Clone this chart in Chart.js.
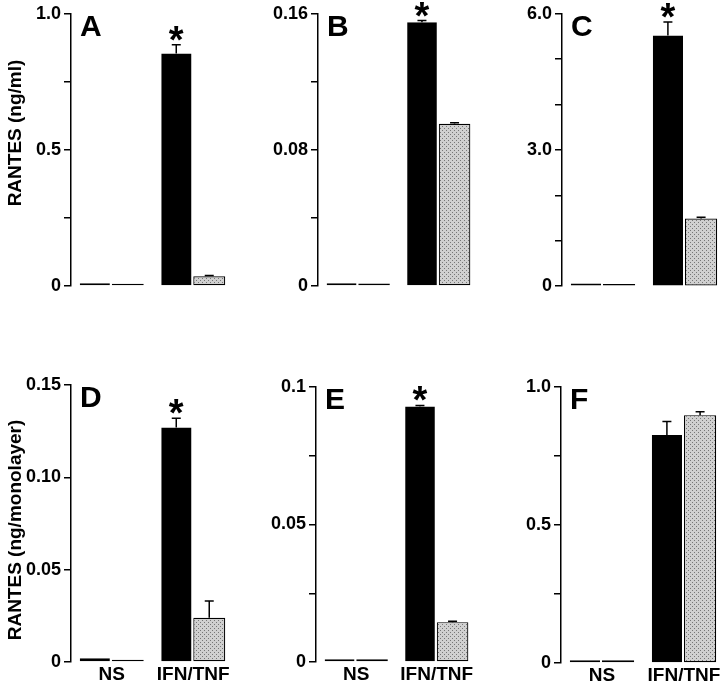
<!DOCTYPE html>
<html lang="en">
<head>
  <meta charset="UTF-8" />
  <title>RANTES</title>
  <script src="https://cdn.jsdelivr.net/npm/chart.js"></script>
  <style>
    html, body { margin: 0; padding: 0; background: #fff; overflow: hidden; }
    body { width: 720px; height: 685px; position: relative; }
    canvas { position: absolute; }
  </style>
</head>
<body>
  <canvas id="cA"></canvas>
  <canvas id="cB"></canvas>
  <canvas id="cC"></canvas>
  <canvas id="cD"></canvas>
  <canvas id="cE"></canvas>
  <canvas id="cF"></canvas>

  <script>
    const groups = ['NS', 'IFN/TNF'];

    // A
    const blackA = [0.01, 0.854];
    const grayA = [0.008, 0.036];
    const errBlackA = [0, 0.032];
    const errGrayA = [0, 0.003];
    const ticksA = [0, 0.25, 0.5, 0.75, 1.0];
    const labelsA = ['0', '', '0.5', '', '1.0'];

    // B
    const blackB = [0.0016, 0.155];
    const grayB = [0.0014, 0.0954];
    const errBlackB = [0, 0.001];
    const errGrayB = [0, 0.0006];
    const ticksB = [0, 0.04, 0.08, 0.12, 0.16];
    const labelsB = ['0', '', '0.08', '', '0.16'];

    // C
    const blackC = [0.06, 5.52];
    const grayC = [0.05, 1.49];
    const errBlackC = [0, 0.30];
    const errGrayC = [0, 0.03];
    const ticksC = [0, 1, 2, 3, 4, 5, 6];
    const labelsC = ['0', '', '', '3.0', '', '', '6.0'];

    // D
    const blackD = [0.002, 0.127];
    const grayD = [0.0012, 0.024];
    const errBlackD = [0, 0.005];
    const errGrayD = [0, 0.009];
    const ticksD = [0, 0.05, 0.10, 0.15];
    const labelsD = ['0', '0.05', '0.10', '0.15'];

    // E
    const blackE = [0.001, 0.0929];
    const grayE = [0.001, 0.0145];
    const errBlackE = [0, 0.0004];
    const errGrayE = [0, 0.0003];
    const ticksE = [0, 0.025, 0.05, 0.075, 0.1];
    const labelsE = ['0', '', '0.05', '', '0.1'];

    // F
    const blackF = [0.01, 0.826];
    const grayF = [0.01, 0.898];
    const errBlackF = [0, 0.049];
    const errGrayF = [0, 0.012];
    const ticksF = [0, 0.25, 0.5, 0.75, 1.0];
    const labelsF = ['0', '', '0.5', '', '1.0'];

    const FONT = '"Liberation Sans", Arial, Helvetica, sans-serif';

    const panels = [
      { id: 'cA', letter: 'A', black: blackA, gray: grayA, errB: errBlackA, errG: errGrayA, ticks: ticksA, labels: labelsA, star: true,
        left: 0, top: 0, width: 234, height: 300, yw: 71, padTop: 12, xh: 14, showX: false,
        title: 'RANTES (ng/ml)', titleX: 16, titleY: 133 },
      { id: 'cB', letter: 'B', black: blackB, gray: grayB, errB: errBlackB, errG: errGrayB, ticks: ticksB, labels: labelsB, star: true,
        left: 240, top: 0, width: 239, height: 300, yw: 78, padTop: 12, xh: 14, showX: false },
      { id: 'cC', letter: 'C', black: blackC, gray: grayC, errB: errBlackC, errG: errGrayC, ticks: ticksC, labels: labelsC, star: true,
        left: 480, top: 0, width: 246, height: 300, yw: 82, padTop: 13, xh: 13, showX: false },
      { id: 'cD', letter: 'D', black: blackD, gray: grayD, errB: errBlackD, errG: errGrayD, ticks: ticksD, labels: labelsD, star: true,
        left: 0, top: 330, width: 234, height: 355, yw: 71, padTop: 55, xh: 23, showX: true,
        title: 'RANTES (ng/monolayer)', titleX: 16, titleY: 200 },
      { id: 'cE', letter: 'E', black: blackE, gray: grayE, errB: errBlackE, errG: errGrayE, ticks: ticksE, labels: labelsE, star: true,
        left: 240, top: 330, width: 237, height: 355, yw: 76, padTop: 57, xh: 23, showX: true },
      { id: 'cF', letter: 'F', black: blackF, gray: grayF, errB: errBlackF, errG: errGrayF, ticks: ticksF, labels: labelsF, star: false,
        left: 480, top: 330, width: 245, height: 355, yw: 81, padTop: 57, xh: 22, showX: true }
    ];

    // stippled light grey fill
    function stipple() {
      const c = document.createElement('canvas');
      c.width = 4; c.height = 4;
      const g = c.getContext('2d');
      g.fillStyle = '#d0d0d0';
      g.fillRect(0, 0, 4, 4);
      g.fillStyle = '#777';
      g.fillRect(0, 0, 1, 1);
      g.fillRect(2, 2, 1, 1);
      return g.createPattern(c, 'repeat');
    }
    const dots = stipple();

    // error bars, asterisk, panel letter, y title
    function extras(p) {
      return {
        id: 'extras',
        afterDatasetsDraw(chart) {
          const ctx = chart.ctx;
          const y = chart.scales.y;
          const area = chart.chartArea;
          ctx.save();
          ctx.strokeStyle = '#000';
          ctx.fillStyle = '#000';
          ctx.lineWidth = 1.5;

          [p.errB, p.errG].forEach((errs, di) => {
            const vals = di === 0 ? p.black : p.gray;
            chart.getDatasetMeta(di).data.forEach((bar, i) => {
              if (!errs[i]) return;
              const x = di === 0 ? bar.x - 1 : bar.x;
              const y0 = y.getPixelForValue(vals[i]);
              const y1 = y.getPixelForValue(vals[i] + errs[i]);
              ctx.beginPath();
              ctx.moveTo(x, y0);
              ctx.lineTo(x, y1);
              ctx.moveTo(x - 4.5, y1);
              ctx.lineTo(x + 4.5, y1);
              ctx.stroke();
            });
          });

          if (p.star) {
            const bar = chart.getDatasetMeta(0).data[1];
            const topY = y.getPixelForValue(p.black[1] + p.errB[1]);
            ctx.font = 'bold 38px ' + FONT;
            ctx.textAlign = 'center';
            ctx.textBaseline = 'alphabetic';
            const m = ctx.measureText('*');
            ctx.fillText('*', bar.x - 1, topY - 4 - m.actualBoundingBoxDescent);
          }

          ctx.font = 'bold 30px ' + FONT;
          ctx.textAlign = 'left';
          ctx.textBaseline = 'alphabetic';
          ctx.fillText(p.letter, area.left + 9, area.top + 22);

          if (p.title) {
            ctx.translate(p.titleX, p.titleY);
            ctx.rotate(-Math.PI / 2);
            ctx.font = 'bold 19px ' + FONT;
            ctx.textAlign = 'center';
            ctx.textBaseline = 'middle';
            ctx.fillText(p.title, 0, 0);
          }
          ctx.restore();
        }
      };
    }

    panels.forEach(p => {
      const canvas = document.getElementById(p.id);
      canvas.style.left = p.left + 'px';
      canvas.style.top = p.top + 'px';
      canvas.width = p.width;
      canvas.height = p.height;

      new Chart(canvas, {
        type: 'bar',
        data: {
          labels: groups,
          datasets: [
            {
              data: p.black,
              backgroundColor: '#000',
              borderColor: '#fff',
              borderWidth: { top: 0, right: 2, bottom: 0, left: 0 },
              borderSkipped: false,
              barPercentage: 1.0,
              categoryPercentage: 0.785
            },
            {
              data: p.gray,
              backgroundColor: dots,
              borderColor: '#000',
              borderWidth: 1.2,
              borderSkipped: false,
              barPercentage: 1.0,
              categoryPercentage: 0.785
            }
          ]
        },
        options: {
          responsive: false,
          animation: false,
          events: [],
          layout: { padding: { top: p.padTop, left: 0, right: 0, bottom: 0 } },
          plugins: { legend: { display: false }, tooltip: { enabled: false } },
          scales: {
            x: {
              grid: { display: false, drawTicks: false },
              border: { display: false },
              ticks: {
                display: p.showX,
                color: '#000',
                padding: 1,
                maxRotation: 0,
                autoSkip: false,
                font: { family: FONT, size: 19, weight: 'bold' }
              },
              afterFit: s => { s.height = p.xh; }
            },
            y: {
              min: 0,
              max: p.ticks[p.ticks.length - 1],
              grid: { drawOnChartArea: false, drawTicks: true, tickLength: 7, color: '#000', lineWidth: 1.5 },
              border: { display: true, color: '#000', width: 1.5 },
              ticks: {
                color: '#000',
                padding: 3,
                font: { family: FONT, size: 18, weight: 'bold' },
                callback: (v, i) => p.labels[i]
              },
              afterBuildTicks: s => { s.ticks = p.ticks.map(v => ({ value: v })); },
              afterFit: s => { s.width = p.yw; }
            }
          }
        },
        plugins: [extras(p)]
      });
    });
  </script>
</body>
</html>
